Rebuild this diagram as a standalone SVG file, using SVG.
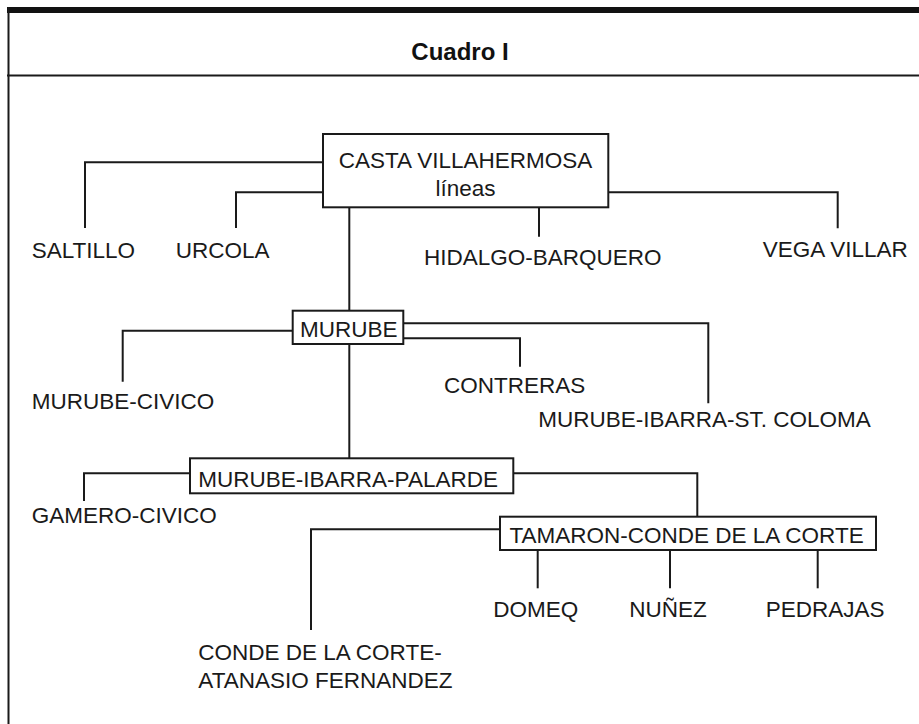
<svg xmlns="http://www.w3.org/2000/svg" width="919" height="724" viewBox="0 0 919 724">
<style>
.t{font-family:"Liberation Sans",Arial,Helvetica,sans-serif;font-size:22.5px;fill:#1a1a1a}
.title{font-family:"Liberation Sans",Arial,Helvetica,sans-serif;font-size:24px;font-weight:bold;fill:#111}
.box{fill:#fff;stroke:#1a1a1a;stroke-width:2}
.c{fill:none;stroke:#1a1a1a;stroke-width:2}
.frame{fill:none;stroke:#1a1a1a;stroke-width:2}
</style>
<rect x="7" y="7" width="912" height="6" fill="#111"/>
<line class="frame" x1="8.5" y1="7" x2="8.5" y2="724"/>
<line class="frame" x1="7" y1="75.5" x2="919" y2="75.5"/>
<text class="title" x="460" y="60" text-anchor="middle">Cuadro I</text>

<g id="connectors">
<polyline class="c" points="323,162.3 85,162.3 85,228"/>
<polyline class="c" points="323,192.3 236,192.3 236,228"/>
<line class="c" x1="539" y1="207.3" x2="539" y2="236.7"/>
<polyline class="c" points="608.3,192.3 837.7,192.3 837.7,228.3"/>
<line class="c" x1="349.3" y1="207.3" x2="349.3" y2="310.7"/>
<polyline class="c" points="292.7,330.7 122.7,330.7 122.7,381.7"/>
<polyline class="c" points="403.3,323.3 708.3,323.3 708.3,403.3"/>
<polyline class="c" points="403.3,338.3 520,338.3 520,366.7"/>
<line class="c" x1="349.3" y1="344" x2="349.3" y2="458.3"/>
<polyline class="c" points="190,473.3 84,473.3 84,501"/>
<polyline class="c" points="513.3,473.3 697.3,473.3 697.3,516.7"/>
<polyline class="c" points="500,529.3 311,529.3 311,630"/>
<line class="c" x1="537.7" y1="550" x2="537.7" y2="588.3"/>
<line class="c" x1="670" y1="550" x2="670" y2="588.3"/>
<line class="c" x1="817.7" y1="550" x2="817.7" y2="588.3"/>
</g>

<g id="casta">
<rect class="box" x="323" y="134" width="285.3" height="73.3"/>
<text class="t" x="465.5" y="168.3" text-anchor="middle">CASTA VILLAHERMOSA</text>
<text class="t" x="465.5" y="195.5" text-anchor="middle">líneas</text>
</g>
<g id="saltillo"><text class="t" x="31.7" y="257.7">SALTILLO</text></g>
<g id="urcola"><text class="t" x="175.7" y="258">URCOLA</text></g>
<g id="hidalgo"><text class="t" x="424" y="265">HIDALGO-BARQUERO</text></g>
<g id="vega"><text class="t" x="762.7" y="256.7">VEGA VILLAR</text></g>

<g id="murube">
<rect class="box" x="292.7" y="310.7" width="110.6" height="33.3"/>
<text class="t" x="300" y="336.7">MURUBE</text>
</g>
<g id="murube-civico"><text class="t" x="31.7" y="409.3">MURUBE-CIVICO</text></g>
<g id="contreras"><text class="t" x="444" y="392.7">CONTRERAS</text></g>
<g id="murube-ibarra-st-coloma"><text class="t" x="538.3" y="426.7">MURUBE-IBARRA-ST. COLOMA</text></g>

<g id="murube-ibarra-palarde">
<rect class="box" x="190" y="458.3" width="323.3" height="35"/>
<text class="t" x="198.3" y="486.7">MURUBE-IBARRA-PALARDE</text>
</g>
<g id="gamero-civico"><text class="t" x="31.7" y="522.7">GAMERO-CIVICO</text></g>

<g id="tamaron">
<rect class="box" x="500" y="516.7" width="376" height="33.3"/>
<text class="t" x="509.5" y="543.3">TAMARON-CONDE DE LA CORTE</text>
</g>
<g id="domeq"><text class="t" x="493.3" y="616.7">DOMEQ</text></g>
<g id="nunez"><text class="t" x="629.3" y="616.5">NUÑEZ</text></g>
<g id="pedrajas"><text class="t" x="765.7" y="616.5">PEDRAJAS</text></g>
<g id="conde-atanasio">
<text class="t" x="198.3" y="660">CONDE DE LA CORTE-</text>
<text class="t" x="198.3" y="688">ATANASIO FERNANDEZ</text>
</g>
</svg>
